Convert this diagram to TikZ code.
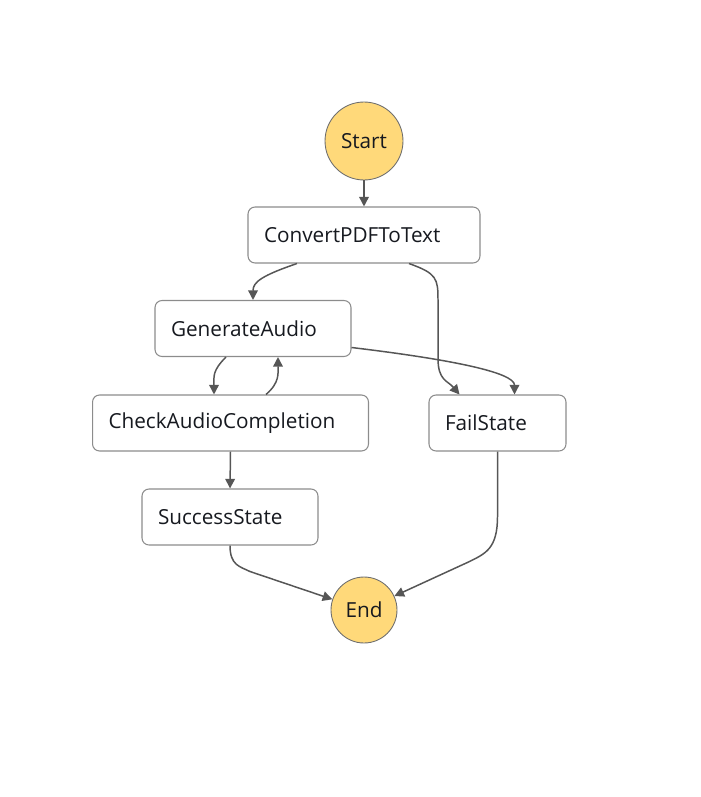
\documentclass[tikz,border=0pt]{standalone}
\usepackage{fontspec}
\setmainfont{Open Sans}
\usepackage{xcolor}
\usetikzlibrary{arrows, arrows.meta}
\usetikzlibrary{calc}

\definecolor{termfill}{HTML}{FFD97A}
\definecolor{termdraw}{HTML}{6E6E6E}
\definecolor{boxdraw}{HTML}{8C8C8C}
\definecolor{edgegray}{HTML}{565656}
\definecolor{textnavy}{HTML}{16191F}

\tikzset{
  term/.style={circle, draw=termdraw, fill=termfill, line width=0.5pt, inner sep=0pt, text=textnavy, font=\fontsize{11.8}{14}\selectfont},
  task/.style={draw=boxdraw, rounded corners=4pt, line width=0.6pt, minimum height=1.12cm, inner xsep=0.32cm, align=left, text=textnavy, font=\fontsize{11.8}{14}\selectfont},
  flow/.style={draw=edgegray, line width=0.85pt, -{Triangle[length=5.5pt, width=5.5pt]}}
}

\begin{document}
\begin{tikzpicture}[x=0.02cm, y=-0.02cm]
      \useasboundingbox (0, 0) rectangle (700, 797);

      \node[term, minimum size=1.56cm] (start) at (364, 141) {Start};
      \node[task, text width=4.0cm] (conv) at (364, 235) {ConvertPDFToText};
      \node[task, text width=3.28cm] (gen) at (253, 328.5) {GenerateAudio};
      \node[task, text width=4.88cm] (check) at (230.5, 423) {CheckAudioCompletion};
      \node[task, text width=2.10cm] (fail) at (497.5, 423) {FailState};
      \node[task, text width=2.88cm] (succ) at (230, 517) {SuccessState};
      \node[term, minimum size=1.32cm] (end) at (364, 610) {End};

      \draw[flow] (start) -- (conv);
      \draw[flow] ($(conv.south)+(-67, 0)$) .. controls +(-35, 12) and +(0, -18) .. (gen.north);
      \draw[flow] ($(conv.south)+(45, 0)$) .. controls +(28, 10) and +(0, -22) .. ++(29, 37) -- ++(0, 58) .. controls +(0, 22) and +(-12, -14) .. ($(fail.north)+(-38, 0)$);
      \draw[flow] ($(gen.east)+(0, 19)$) .. controls +(100, 12) and +(0, -22) .. ($(fail.north)+(17, 0)$);
      \draw[flow] ($(gen.south)+(-27, 0)$) .. controls +(-14, 14) and +(0, -18) .. ($(check.north)+(-16.5, 0)$);
      \draw[flow] ($(check.north)+(35.5, 0)$) .. controls +(14, -12) and +(0, 16) .. ($(gen.south)+(25, 0)$);
      \draw[flow] (check.south) -- (succ.north);
      \draw[flow] (succ.south) .. controls +(0, 20) and +(-10, -5) .. ++(20, 26) -- (end);
      \draw[flow] (fail.south) -- ++(0, 65) .. controls +(0, 32) and +(16, -8) .. ++(-28, 45) -- (end);
    \end{tikzpicture}
\end{document}
